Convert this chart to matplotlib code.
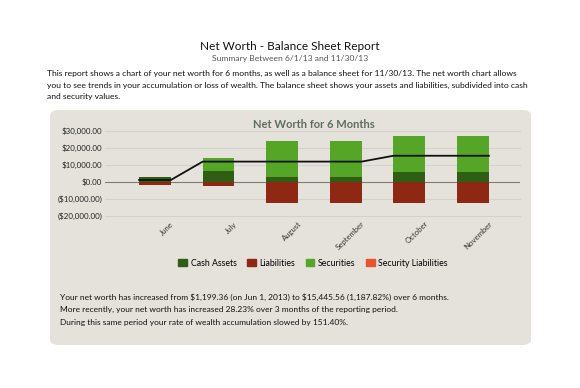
import matplotlib
matplotlib.use("Agg")
import matplotlib.pyplot as plt
from matplotlib.patches import FancyBboxPatch, Rectangle
import numpy as np

months = ["June", "July", "August", "September", "October", "November"]
cash_assets = [3100, 6500, 2900, 2900, 5900, 5900]
securities = [0, 7600, 21400, 21400, 21300, 21300]
liabilities = [-2000, -2500, -12300, -12300, -12300, -12300]
security_liabilities = [0, 0, 0, 0, 0, 0]
net_worth = [1199.36, 12000, 12000, 12000, 15445.56, 15445.56]
y_ticks = [30000, 20000, 10000, 0, -10000, -20000]
y_tick_labels = ["$30,000.00", "$20,000.00", "$10,000.00", "$0.00",
                 "($10,000.00)", "($20,000.00)"]
legend_labels = ["Cash Assets", "Liabilities", "Securities", "Security Liabilities"]

C_CASH = "#2e5e14"
C_LIAB = "#8e2812"
C_SEC = "#55a626"
C_SECLIAB = "#e8522c"

FONT = ["Lato", "DejaVu Sans"]
plt.rcParams["font.family"] = FONT
plt.rcParams["text.parse_math"] = False

W, H = 580, 388
fig = plt.figure(figsize=(W / 100, H / 100), dpi=100)
fig.patch.set_facecolor("white")

def fx(px):
    return px / W

def fy(py):
    return 1 - py / H

# header texts
fig.text(fx(290), fy(46), "Net Worth - Balance Sheet Report", ha="center", va="center",
         fontsize=8.5, color="#111111")
fig.text(fx(290), fy(58), "Summary Between 6/1/13 and 11/30/13", ha="center", va="center",
         fontsize=6.1, color="#555555")
para = ["This report shows a chart of your net worth for 6 months, as well as a balance sheet for 11/30/13. The net worth chart allows",
        "you to see trends in your accumulation or loss of wealth. The balance sheet shows your assets and liabilities, subdivided into cash",
        "and security values."]
for i, line in enumerate(para):
    fig.text(fx(47), fy(73 + i * 12), line, ha="left", va="center", fontsize=6.1, color="#111111")

# panel
panel = FancyBboxPatch((fx(50), fy(345)), fx(531) - fx(50), fy(110) - fy(345),
                       boxstyle="round,pad=0,rounding_size=0.015",
                       transform=fig.transFigure, facecolor="#e4e2db", edgecolor="none",
                       zorder=-1)
fig.patches.append(panel)

# axes
ax = fig.add_axes([fx(105), fy(216), fx(520) - fx(105), fy(131) - fy(216)])
ax.set_zorder(2)
ax.set_facecolor("none")
x = np.arange(len(months))
bw = 0.5
ax.bar(x, cash_assets, bw, color=C_CASH, zorder=3)
ax.bar(x, securities, bw, bottom=cash_assets, color=C_SEC, zorder=3)
ax.bar(x, liabilities, bw, color=C_LIAB, zorder=3)
ax.bar(x, security_liabilities, bw, bottom=liabilities, color=C_SECLIAB, zorder=3)

lx = np.ravel(np.column_stack([x - bw / 2, x + bw / 2]))
ly = np.repeat(net_worth, 2)
ax.plot(lx, ly, color="#111111", lw=1.3, zorder=4)

ax.set_xlim(-0.786, 5.739)
ax.set_ylim(-20000, 30000)
for t in y_ticks:
    if t == 0:
        ax.axhline(t, color="#7d7d7d", lw=0.8, zorder=2)
    else:
        ax.axhline(t, color="#d3d1ca", lw=0.8, zorder=1, clip_on=False)
ax.set_yticks(y_ticks)
ax.set_yticklabels(y_tick_labels, fontsize=5.7, color="#222222")
ax.tick_params(axis="y", length=0, pad=2)
ax.set_xticks([])
for s in ax.spines.values():
    s.set_visible(False)

for i, m in enumerate(months):
    ax.annotate(m, xy=(x[i], -20000), xycoords="data", xytext=(11, -3),
                textcoords="offset points", rotation=45, ha="right", va="top",
                rotation_mode="anchor", fontsize=5.6, color="#333333")

fig.text(fx(313.5), fy(124), "Net Worth for 6 Months", ha="center", va="center",
         fontsize=8.0, fontweight="bold", color="#5e6e5e", zorder=3)

# legend
handles = [Rectangle((0, 0), 1, 1, color=c) for c in [C_CASH, C_LIAB, C_SEC, C_SECLIAB]]
leg = fig.legend(handles, legend_labels, loc="center", bbox_to_anchor=(fx(313), fy(263)),
                 ncol=4, frameon=False, fontsize=6.3, handlelength=1.0, handleheight=1.0,
                 handletextpad=0.4, columnspacing=1.2, borderaxespad=0)
leg.set_zorder(3)

bottom = ["Your net worth has increased from $1,199.36 (on Jun 1, 2013) to $15,445.56 (1,187.82%) over 6 months.",
          "More recently, your net worth has increased 28.23% over 3 months of the reporting period.",
          "During this same period your rate of wealth accumulation slowed by 151.40%."]
for i, line in enumerate(bottom):
    fig.text(fx(60), fy(297 + i * 12.5), line, ha="left", va="center", fontsize=6.05,
             color="#111111", zorder=3)

fig.savefig("out.png", dpi=100)
